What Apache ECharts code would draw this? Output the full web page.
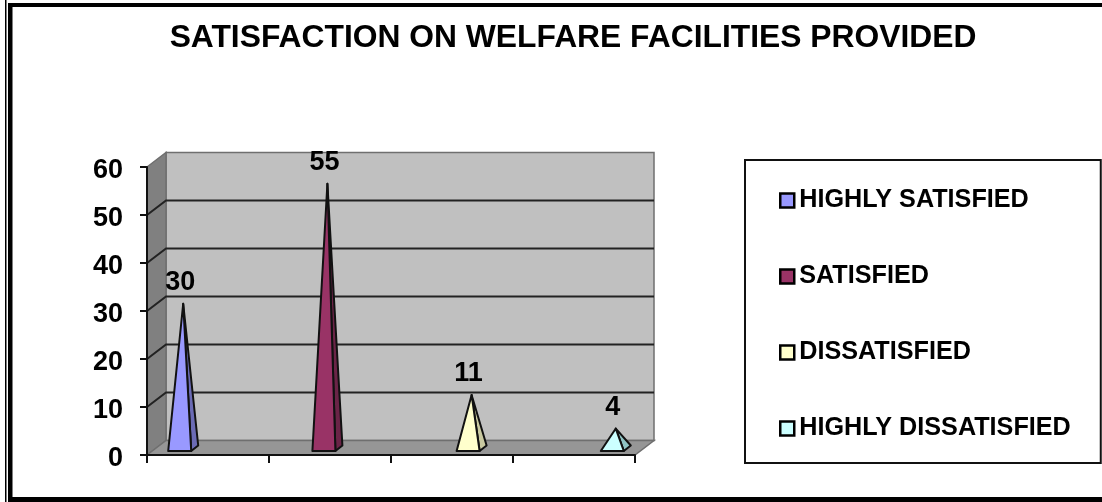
<!DOCTYPE html>
<html>
<head>
<meta charset="utf-8">
<style>html,body{margin:0;padding:0;background:#fff}#chart{width:1102px;height:502px}</style>
<script src="https://cdn.jsdelivr.net/npm/echarts@6/dist/echarts.min.js"></script>
</head>
<body>
<div id="chart"></div>
<script>
const chartTitle = 'SATISFACTION ON WELFARE FACILITIES PROVIDED';
const categories = ['HIGHLY SATISFIED', 'SATISFIED', 'DISSATISFIED', 'HIGHLY DISSATISFIED'];
const values = [30, 55, 11, 4];
const frontColors = ['#9999ff', '#993366', '#ffffcc', '#ccffff'];
const sideColors = ['#6b6bb5', '#6b2447', '#c9c9a0', '#8fc4c4'];
const FONT = '"Liberation Sans", Arial, sans-serif';

// Oblique projection of the 3D box: how far the back plane shifts from the front plane.
const DEPTH_X = 19, DEPTH_Y = 14.5;
const INK = '#111';

// Walls, floor and gridlines of the box, placed from the axis scales.
function renderBox(params, api) {
  const o = api.coord([0, 0]);
  const size = api.size([1, 0]);
  const x0 = o[0] - size[0] / 2;
  const x1 = x0 + size[0] * categories.length;
  const yBase = o[1];
  const yTop = api.coord([0, 60])[1];
  const wall = (points, fill) => ({
    type: 'polygon',
    shape: { points },
    style: { fill, stroke: '#6f6f6f', lineWidth: 1.5 }
  });
  const children = [
    wall([[x0 + DEPTH_X, yTop - DEPTH_Y], [x1 + DEPTH_X, yTop - DEPTH_Y], [x1 + DEPTH_X, yBase - DEPTH_Y], [x0 + DEPTH_X, yBase - DEPTH_Y]], '#c0c0c0'),
    wall([[x0, yTop], [x0 + DEPTH_X, yTop - DEPTH_Y], [x0 + DEPTH_X, yBase - DEPTH_Y], [x0, yBase]], '#808080'),
    wall([[x0, yBase], [x0 + DEPTH_X, yBase - DEPTH_Y], [x1 + DEPTH_X, yBase - DEPTH_Y], [x1, yBase]], '#969696')
  ];
  for (let v = 10; v <= 50; v += 10) {
    const y = api.coord([0, v])[1];
    children.push({
      type: 'polyline',
      shape: { points: [[x0, y], [x0 + DEPTH_X, y - DEPTH_Y], [x1 + DEPTH_X, y - DEPTH_Y]] },
      style: { fill: 'none', stroke: '#222', lineWidth: 2 }
    });
  }
  return { type: 'group', children };
}

// One pyramid per series; the series sit side by side, fanned out from the band centres.
function renderPyramid(params, api) {
  const i = api.value(0);
  const v = api.value(1);
  const spread = 22.2 * (i - 1.5) - 1;
  const apex = api.coord([i, v]);
  const yBase = api.coord([i, 0])[1];
  const ax = apex[0] + spread + DEPTH_X / 2;
  const ay = apex[1] - DEPTH_Y / 2;
  const fl = [ax - 15, yBase - 4];
  const fr = [ax + 8, yBase - 4];
  const br = [ax + 15, yBase - 9.5];
  const edge = { stroke: INK, lineWidth: 2, lineJoin: 'round' };
  return {
    type: 'group',
    children: [
      { type: 'polygon', shape: { points: [[ax, ay], fr, br] }, style: Object.assign({ fill: sideColors[i] }, edge) },
      { type: 'polygon', shape: { points: [[ax, ay], fl, fr] }, style: Object.assign({ fill: frontColors[i] }, edge) },
      {
        type: 'text',
        style: {
          x: ax - 3, y: ay - 21.5,
          text: String(v),
          fill: '#000',
          font: 'bold 27px ' + FONT,
          align: 'center',
          verticalAlign: 'middle'
        }
      }
    ]
  };
}

const chart = echarts.init(document.getElementById('chart'), null, { renderer: 'canvas' });

const frameBars = [
  [5, 0, 1.5, 502], [8, 3, 4.5, 499], [8, 3, 1094, 4], [8, 497, 1094, 5]
].map(b => ({
  type: 'rect', silent: true, z: 10,
  shape: { x: b[0], y: b[1], width: b[2], height: b[3] },
  style: { fill: '#000' }
}));

chart.setOption({
  animation: false,
  backgroundColor: '#fff',
  title: {
    text: chartTitle,
    left: 573, top: 22,
    textAlign: 'center',
    padding: 0,
    textStyle: { fontFamily: FONT, fontWeight: 'bold', fontSize: 31.8, color: '#000' }
  },
  legend: {
    orient: 'vertical',
    left: 745, top: 160,
    padding: [28, 30, 22, 34],
    itemGap: 51,
    itemWidth: 14, itemHeight: 14,
    backgroundColor: '#fff',
    borderColor: '#111',
    borderWidth: 2,
    selectedMode: false,
    textStyle: { fontFamily: FONT, fontWeight: 'bold', fontSize: 25.2, color: '#000', padding: [0, 0, 0, 0] },
    data: categories.map(name => ({ name, icon: 'rect' })),
    itemStyle: { borderColor: '#000', borderWidth: 2.5 }
  },
  grid: { left: 147, right: 467, top: 167, bottom: 47, containLabel: false },
  xAxis: {
    type: 'category',
    data: categories,
    z: 5,
    axisLabel: { show: false },
    axisLine: { lineStyle: { color: INK, width: 2 } },
    axisTick: { show: true, interval: 0, alignWithLabel: false, length: 8, lineStyle: { color: INK, width: 2 } },
    splitLine: { show: false }
  },
  yAxis: {
    type: 'value',
    min: 0, max: 60, interval: 10,
    z: 5,
    axisLabel: { fontFamily: FONT, fontWeight: 'bold', fontSize: 27, color: '#000', margin: 24, verticalAlign: 'top', lineHeight: 8 },
    axisLine: { show: true, lineStyle: { color: INK, width: 2 } },
    axisTick: { show: true, length: 7, lineStyle: { color: INK, width: 2 } },
    splitLine: { show: false }
  },
  graphic: frameBars,
  series: [
    {
      type: 'custom', name: 'box', z: 1, silent: true, clip: false,
      renderItem: renderBox,
      data: [[0, 0]], encode: { x: 0, y: 1 }
    }
  ].concat(categories.map((name, i) => ({
    type: 'custom', name, z: 3, clip: false,
    itemStyle: { color: frontColors[i] },
    renderItem: renderPyramid,
    data: [[i, values[i]]], encode: { x: 0, y: 1 }
  })))
});
</script>
</body>
</html>
